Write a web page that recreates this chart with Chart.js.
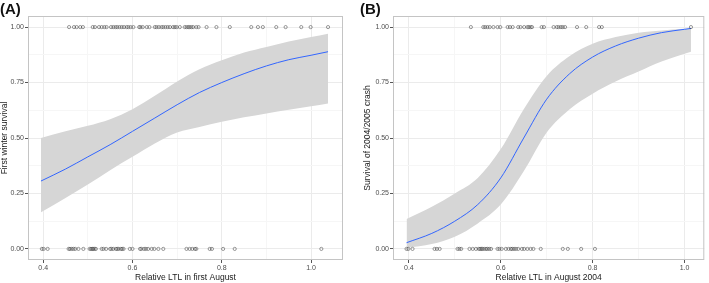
<!DOCTYPE html>
<html>
<head>
<meta charset="utf-8">
<script src="https://cdn.jsdelivr.net/npm/chart.js@4.4.1/dist/chart.umd.min.js"></script>
<style>
    body {
        margin: 0;
        width: 709px;
        height: 283px;
        position: relative;
        overflow: hidden;
        background: #fff;
        font-family: "Liberation Sans", Arial, sans-serif;
    }
    canvas { position: absolute; top: 0; }
    #chartA { left: 0; }
    #chartB { left: 355px; }
    .tag {
        position: absolute;
        top: 1px;
        font-size: 15px;
        line-height: 1;
        font-weight: bold;
        color: #111;
    }
</style>
</head>
<body>
<canvas id="chartA" width="352" height="283"></canvas>
<canvas id="chartB" width="354" height="283"></canvas>
<div class="tag" style="left:0px">(A)</div>
<div class="tag" style="left:360px">(B)</div>
<script>
// ---- data, panel A (first winter) ----
const aSurvived = [0.458, 0.469, 0.475, 0.483, 0.489, 0.511, 0.516, 0.525, 0.531, 0.537, 0.542, 0.552,
    0.557, 0.562, 0.566, 0.571, 0.576, 0.581, 0.587, 0.591, 0.596, 0.602, 0.615, 0.618, 0.623, 0.632,
    0.638, 0.650, 0.654, 0.659, 0.665, 0.669, 0.674, 0.679, 0.684, 0.691, 0.695, 0.699, 0.706, 0.717,
    0.721, 0.725, 0.728, 0.732, 0.736, 0.743, 0.748, 0.766, 0.788, 0.818, 0.866, 0.881, 0.892, 0.922,
    0.943, 0.978, 0.999, 1.038];
const aDied = [0.397, 0.401, 0.410, 0.457, 0.460, 0.464, 0.468, 0.472, 0.479, 0.490, 0.504, 0.507,
    0.510, 0.512, 0.515, 0.518, 0.531, 0.535, 0.541, 0.550, 0.553, 0.557, 0.563, 0.566, 0.569, 0.574,
    0.577, 0.580, 0.594, 0.600, 0.617, 0.620, 0.626, 0.630, 0.635, 0.643, 0.649, 0.658, 0.669, 0.721,
    0.728, 0.734, 0.740, 0.743, 0.773, 0.778, 0.803, 0.829, 1.023];
const aCurveX = [0.395, 0.45, 0.5, 0.55, 0.6, 0.65, 0.7, 0.75, 0.8, 0.85, 0.9, 0.95, 1.0, 1.038];
const aFit = [0.306, 0.36, 0.415, 0.47, 0.53, 0.59, 0.65, 0.705, 0.75, 0.79, 0.825, 0.853, 0.873, 0.889];
const aUpper = [0.50, 0.53, 0.555, 0.585, 0.63, 0.69, 0.755, 0.81, 0.85, 0.885, 0.91, 0.935, 0.955, 0.97];
const aLower = [0.165, 0.23, 0.29, 0.355, 0.415, 0.475, 0.525, 0.55, 0.573, 0.593, 0.611, 0.627, 0.643, 0.656];

// ---- data, panel B (2004/2005 crash) ----
const bSurvived = [0.535, 0.562, 0.566, 0.571, 0.576, 0.584, 0.593, 0.599, 0.615, 0.620, 0.626, 0.638,
    0.643, 0.651, 0.658, 0.661, 0.665, 0.668, 0.689, 0.694, 0.715, 0.722, 0.726, 0.731, 0.735, 0.740,
    0.766, 0.786, 0.814, 0.820, 1.014];
const bDied = [0.395, 0.399, 0.408, 0.456, 0.461, 0.467, 0.506, 0.510, 0.514, 0.532, 0.539, 0.546,
    0.552, 0.555, 0.558, 0.560, 0.564, 0.568, 0.571, 0.575, 0.579, 0.593, 0.597, 0.602, 0.611, 0.617,
    0.622, 0.625, 0.629, 0.633, 0.638, 0.646, 0.651, 0.658, 0.665, 0.671, 0.687, 0.735, 0.746, 0.775,
    0.805];
const bCurveX = [0.395, 0.45, 0.5, 0.55, 0.6, 0.65, 0.7, 0.75, 0.8, 0.85, 0.9, 0.95, 1.0, 1.014];
const bFit = [0.028, 0.07, 0.125, 0.2, 0.32, 0.5, 0.675, 0.79, 0.865, 0.915, 0.95, 0.975, 0.99, 0.994];
const bUpper = [0.135, 0.19, 0.25, 0.32, 0.45, 0.63, 0.78, 0.87, 0.925, 0.955, 0.975, 0.985, 0.993, 0.995];
const bLower = [0.005, 0.022, 0.055, 0.115, 0.2, 0.35, 0.525, 0.63, 0.70, 0.755, 0.80, 0.845, 0.88, 0.889];

// ---- axes ----
const xGridValues = [0.4, 0.5, 0.6, 0.7, 0.8, 0.9, 1.0];
const yGridValues = [0, 0.125, 0.25, 0.375, 0.5, 0.625, 0.75, 0.875, 1.0];

const isMajorX = (v) => Math.abs(v * 5 - Math.round(v * 5)) < 1e-6;
const isMajorY = (v) => Math.abs(v * 4 - Math.round(v * 4)) < 1e-6;

const colors = {
    band: "#d6d6d6",
    fit: "#3366FF",
    point: "rgba(40, 40, 40, 0.65)",
    gridMajor: "#ebebeb",
    gridMinor: "#f6f6f6",
    tick: "#4d4d4d",
    title: "#1a1a1a",
    border: "#c4c4c4",
};

// grey frame round the plot panel
const panelBorder = {
    id: "panelBorder",
    afterDraw(chart) {
        const { ctx, chartArea: a } = chart;
        ctx.save();
        ctx.strokeStyle = colors.border;
        ctx.lineWidth = 1;
        ctx.strokeRect(a.left + 0.5, a.top + 0.5, a.width - 1, a.height - 1);
        ctx.restore();
    },
};

function toPoints(xs, y) {
    return xs.map((x) => ({ x: x, y: y }));
}

function toCurve(xs, ys) {
    return xs.map((x, i) => ({ x: x, y: ys[i] }));
}

function drawPanel(id, p) {
    const ctx = document.getElementById(id);
    if (!ctx) return;

    const pointStyle = {
        pointRadius: 1.6,
        pointBorderWidth: 0.7,
        pointBorderColor: colors.point,
        pointBackgroundColor: "transparent",
        showLine: false,
    };
    const curveStyle = {
        showLine: true,
        pointRadius: 0,
        cubicInterpolationMode: "monotone",
    };

    new Chart(ctx.getContext("2d"), {
        type: "scatter",
        data: {
            datasets: [
                { data: toPoints(p.survived, 1), ...pointStyle },
                { data: toPoints(p.died, 0), ...pointStyle },
                { data: toCurve(p.curveX, p.fit), ...curveStyle, borderColor: colors.fit, borderWidth: 1 },
                {
                    data: toCurve(p.curveX, p.upper), ...curveStyle,
                    borderWidth: 0, borderColor: "transparent",
                    backgroundColor: colors.band, fill: "+1",
                },
                { data: toCurve(p.curveX, p.lower), ...curveStyle, borderWidth: 0, borderColor: "transparent" },
            ],
        },
        options: {
            responsive: false,
            animation: false,
            layout: { padding: p.padding },
            plugins: {
                legend: { display: false },
                tooltip: { enabled: false },
            },
            scales: {
                x: {
                    type: "linear",
                    min: p.xMin,
                    max: p.xMax,
                    afterBuildTicks: (s) => { s.ticks = xGridValues.map((v) => ({ value: v })); },
                    afterFit: (s) => { s.height = 23; },
                    border: { display: false },
                    grid: {
                        color: (c) => (c.tick && isMajorX(c.tick.value) ? colors.gridMajor : colors.gridMinor),
                        tickColor: (c) => (c.tick && isMajorX(c.tick.value) ? "#555" : "transparent"),
                        tickLength: 3,
                    },
                    ticks: {
                        autoSkip: false,
                        maxRotation: 0,
                        padding: 1,
                        color: colors.tick,
                        font: { family: "Liberation Sans", size: 7 },
                        callback: (v) => (isMajorX(v) ? v.toFixed(1) : ""),
                    },
                    title: {
                        display: true,
                        text: p.xTitle,
                        color: colors.title,
                        font: { family: "Liberation Sans", size: 8.5 },
                        padding: { top: 0, bottom: 0 },
                    },
                },
                y: {
                    type: "linear",
                    min: -0.05,
                    max: 1.05,
                    afterBuildTicks: (s) => { s.ticks = yGridValues.map((v) => ({ value: v })); },
                    afterFit: (s) => { s.width = p.yWidth; },
                    border: { display: false },
                    grid: {
                        color: (c) => (c.tick && isMajorY(c.tick.value) ? colors.gridMajor : colors.gridMinor),
                        tickColor: (c) => (c.tick && isMajorY(c.tick.value) ? "#555" : "transparent"),
                        tickLength: 3,
                    },
                    ticks: {
                        autoSkip: false,
                        padding: 1,
                        color: colors.tick,
                        font: { family: "Liberation Sans", size: 7 },
                        callback: (v) => (isMajorY(v) ? v.toFixed(2) : ""),
                    },
                    title: {
                        display: true,
                        text: p.yTitle,
                        color: colors.title,
                        font: { family: "Liberation Sans", size: 8.5 },
                        padding: { top: 0, bottom: 0 },
                    },
                },
            },
        },
        plugins: [panelBorder],
    });
}

drawPanel("chartA", {
    survived: aSurvived, died: aDied,
    curveX: aCurveX, fit: aFit, upper: aUpper, lower: aLower,
    xMin: 0.366, xMax: 1.0715,
    xTitle: "Relative LTL in first August",
    yTitle: "First winter survival",
    yWidth: 28,
    padding: { top: 16, right: 9, left: 0, bottom: 0 },
});

drawPanel("chartB", {
    survived: bSurvived, died: bDied,
    curveX: bCurveX, fit: bFit, upper: bUpper, lower: bLower,
    xMin: 0.3655, xMax: 1.043,
    xTitle: "Relative LTL in August 2004",
    yTitle: "Survival of 2004/2005 crash",
    yWidth: 30,
    padding: { top: 16, right: 2, left: 8, bottom: 0 },
});
</script>
</body>
</html>
